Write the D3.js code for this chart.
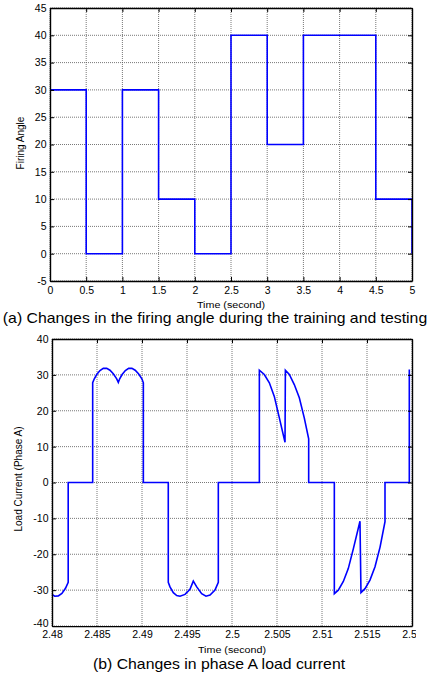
<!DOCTYPE html>
<html>
<head>
<meta charset="utf-8">
<script src="https://cdn.jsdelivr.net/npm/d3@7"></script>
<style>
  body { margin: 0; background: #fff; }
  svg { display: block; font-family: "Liberation Sans", Arial, sans-serif; }
</style>
</head>
<body>
<svg id="fig" width="432" height="678"></svg>
<script>
// (a) firing angle steps
const stepTimes = [0, 0.5, 1, 1.5, 2, 2.5, 3, 3.5, 4.5, 5];
const stepAngles = [30, 0, 30, 10, 0, 40, 20, 40, 10, 0];
const angleTicksX = [0, 0.5, 1, 1.5, 2, 2.5, 3, 3.5, 4, 4.5, 5];
const angleTicksY = [-5, 0, 5, 10, 15, 20, 25, 30, 35, 40, 45];

// (b) phase A load current
const currentTime = [
  2.48000, 2.48030, 2.48070, 2.48110, 2.48150, 2.48180, 2.48180, 2.48452,
  2.48452, 2.48470, 2.48497, 2.48533, 2.48570, 2.48608, 2.48644, 2.48681, 2.48719, 2.48737,
  2.48752, 2.48779, 2.48815, 2.48852, 2.48888, 2.48924, 2.48961, 2.48999, 2.49015,
  2.49015, 2.49292,
  2.49292, 2.49311, 2.49348, 2.49386, 2.49422, 2.49478, 2.49533, 2.49570,
  2.49608, 2.49663, 2.49711, 2.49756, 2.49811, 2.49848,
  2.49848, 2.50304,
  2.50304, 2.50359, 2.50415, 2.50470, 2.50526, 2.50589,
  2.50593, 2.50637, 2.50692, 2.50748, 2.50803, 2.50852,
  2.50852, 2.51137,
  2.51137, 2.51181, 2.51237, 2.51292, 2.51348, 2.51422,
  2.51433, 2.51478, 2.51533, 2.51589, 2.51645, 2.51700,
  2.51700, 2.51970, 2.51970
];
const currentValue = [
  -31.2, -31.7, -31.6, -30.9, -29.5, -27.8, 0, 0,
  27.8, 28.9, 30.1, 31.2, 31.8, 31.8, 31.3, 30.3, 28.9, 27.9,
  28.9, 30.1, 31.2, 31.8, 31.8, 31.3, 30.3, 28.9, 27.8,
  0, 0,
  -27.8, -29.1, -30.7, -31.5, -31.7, -31.2, -29.8, -27.5,
  -29.1, -31.0, -31.7, -31.4, -30.0, -27.8,
  0, 0,
  31.3, 30.1, 27.8, 24.0, 18.0, 11.2,
  31.3, 30.1, 27.3, 23.6, 18.0, 12.2,
  0, 0,
  -31.0, -30.0, -27.6, -24.0, -18.5, -10.8,
  -30.7, -29.6, -27.2, -23.5, -18.0, -10.9,
  0, 0, 31.5
];
const currentTicksX = [2.48, 2.485, 2.49, 2.495, 2.5, 2.505, 2.51, 2.515, 2.52];
const currentTicksY = [-40, -30, -20, -10, 0, 10, 20, 30, 40];

const svg = d3.select('#fig');
const stretch = 1.13; // the source figure is a little wider than tall

function drawPanel(opt) {
  const x = d3.scaleLinear().domain(opt.xDomain).range([opt.left, opt.right]);
  const y = d3.scaleLinear().domain(opt.yDomain).range([opt.bottom, opt.top]);
  const g = svg.append('g');

  // dotted grid
  g.append('g').selectAll('line').data(opt.xTicks).enter().append('line')
    .attr('x1', d => x(d)).attr('x2', d => x(d))
    .attr('y1', opt.top).attr('y2', opt.bottom)
    .attr('stroke', '#555').attr('stroke-width', 0.8).attr('stroke-dasharray', '1,1');
  g.append('g').selectAll('line').data(opt.yTicks).enter().append('line')
    .attr('x1', opt.left).attr('x2', opt.right)
    .attr('y1', d => y(d)).attr('y2', d => y(d))
    .attr('stroke', '#555').attr('stroke-width', 0.8).attr('stroke-dasharray', '1,1');

  // trace
  g.append('path')
    .attr('d', opt.line(x, y))
    .attr('fill', 'none')
    .attr('stroke', '#0000ff')
    .attr('stroke-width', 1.6);

  // axes with inward ticks, matlab style (plain hyphen for negatives)
  const fmt = d => String(d);
  const ax = [
    [d3.axisBottom(x).tickValues(opt.xTicks).tickFormat(fmt).tickPadding(opt.xPad), `translate(0,${opt.bottom})`],
    [d3.axisTop(x).tickValues(opt.xTicks).tickFormat(''), `translate(0,${opt.top})`],
    [d3.axisLeft(y).tickValues(opt.yTicks).tickFormat(fmt).tickPadding(3.5), `translate(${opt.left},0)`],
    [d3.axisRight(y).tickValues(opt.yTicks).tickFormat(''), `translate(${opt.right},0)`]
  ];
  ax.forEach(([axis, tr], i) => {
    const a = g.append('g').attr('transform', tr).call(axis.tickSize(-4).tickSizeOuter(0));
    a.select('.domain').attr('stroke', '#000').attr('stroke-width', 1.4);
    a.selectAll('.tick line').attr('stroke', '#000');
    a.selectAll('text').attr('font-size', 10.5).attr('fill', '#000')
      .attr('font-family', '"Liberation Sans", Arial, sans-serif');
    if (i === 0 && opt.clipX) a.attr('clip-path', 'url(#clipTicks)');
    // lowest y label sits a touch higher, clear of the first x label
    if (i === 2) a.selectAll('.tick text').filter(d => d === opt.yDomain[0]).attr('y', -opt.lowShift);
  });

  // axis titles
  g.append('text')
    .attr('transform', `translate(${(opt.left + opt.right) / 2},${opt.xLabelY}) scale(${stretch},1)`)
    .attr('text-anchor', 'middle').attr('font-size', 9.5)
    .text('Time (second)');
  g.append('text')
    .attr('transform', `translate(${opt.yLabelX},${opt.yLabelY}) rotate(-90)`)
    .attr('text-anchor', 'middle').attr('font-size', 10)
    .text(opt.yLabel);
  g.append('text')
    .attr('transform', `translate(${opt.captionX},${opt.captionY}) scale(${stretch},1)`)
    .attr('text-anchor', 'middle').attr('font-size', 14)
    .text(opt.caption);
}

svg.append('defs').append('clipPath').attr('id', 'clipTicks')
  .append('rect').attr('x', 0).attr('y', 0).attr('width', 416).attr('height', 678);

drawPanel({
  xDomain: [0, 5], yDomain: [-5, 45],
  left: 50, right: 412, top: 8, bottom: 281,
  xTicks: angleTicksX, yTicks: angleTicksY, xPad: 6, lowShift: 0,
  line: (x, y) => d3.line().curve(d3.curveStepAfter)
    .x((d, i) => x(stepTimes[i])).y((d, i) => y(stepAngles[i]))(stepTimes),
  xLabelY: 308, yLabelX: 24, yLabelY: 143, yLabel: 'Firing Angle',
  caption: '(a) Changes in the firing angle during the training and testing',
  captionX: 215, captionY: 323
});

drawPanel({
  xDomain: [2.48, 2.52], yDomain: [-40, 40],
  left: 52, right: 412, top: 339, bottom: 626,
  xTicks: currentTicksX, yTicks: currentTicksY, xPad: 5, lowShift: 3,
  line: (x, y) => d3.line()
    .x((d, i) => x(currentTime[i])).y((d, i) => y(currentValue[i]))(currentTime),
  xLabelY: 652.5, yLabelX: 22, yLabelY: 479, yLabel: 'Load Current (Phase A)',
  caption: '(b) Changes in phase A load current',
  captionX: 219, captionY: 669, clipX: true
});
</script>
</body>
</html>
